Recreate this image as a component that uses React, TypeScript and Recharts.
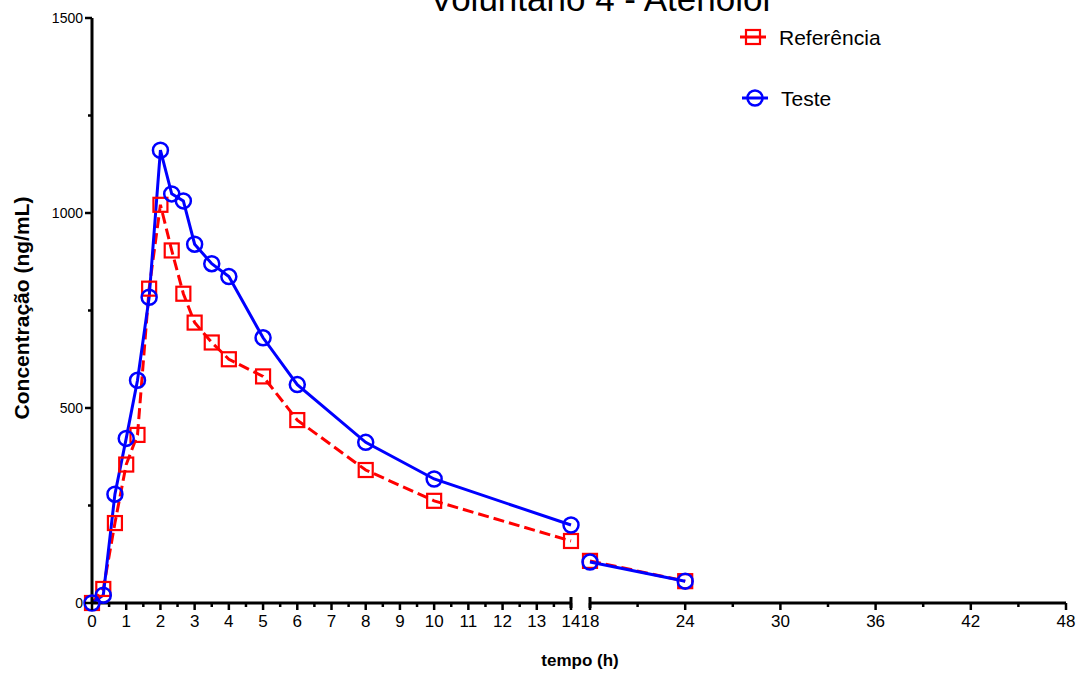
import React from 'react';
import { LineChart, Line, XAxis, YAxis } from 'recharts';

const times = [0, 0.33, 0.67, 1, 1.33, 1.67, 2, 2.33, 2.67, 3, 3.5, 4, 5, 6, 8, 10, 14, 18, 24];
const referencia = [0, 36, 205, 355, 431, 806, 1021, 904, 793, 719, 668, 625, 581, 469, 341, 262, 159, 108, 56];
const teste = [0, 20, 279, 422, 571, 784, 1161, 1049, 1031, 920, 870, 837, 680, 560, 412, 318, 200, 105, 56];

const xTicksLeft = [0, 0.5, 1, 1.5, 2, 2.5, 3, 3.5, 4, 4.5, 5, 5.5, 6, 6.5, 7, 7.5, 8, 8.5, 9, 9.5, 10, 10.5, 11, 11.5, 12, 12.5, 13, 13.5, 14];
const xTicksRight = [18, 21, 24, 27, 30, 33, 36, 39, 42, 45, 48];
const xLabelsRight = [18, 24, 30, 36, 42, 48];
const yTicks = [0, 250, 500, 750, 1000, 1250, 1500];
const yLabels = [0, 500, 1000, 1500];

const seriesNames = { ref: 'Referência', test: 'Teste' };
const titleText = 'Voluntario 4 - Atenolol';
const xTitle = 'tempo (h)';
const yTitle = 'Concentração (ng/mL)';

const RED = '#ff0000';
const BLUE = '#0000ff';
const FONT = "Arial, 'Liberation Sans', Helvetica, sans-serif";

const rows = times.map((t, i) => ({ t, ref: referencia[i], test: teste[i] }));
const leftRows = rows.filter((r) => r.t <= 14);
const rightRows = rows.filter((r) => r.t >= 18);

const SquareDot = (props: any) => {
  const { cx, cy, index } = props;
  if (cx == null || cy == null) return null;
  return <rect key={'s' + index} x={cx - 7} y={cy - 7} width={14} height={14} fill="none" stroke={RED} strokeWidth={2.2} />;
};
const CircleDot = (props: any) => {
  const { cx, cy, index } = props;
  if (cx == null || cy == null) return null;
  return <circle key={'c' + index} cx={cx} cy={cy} r={7.5} fill="none" stroke={BLUE} strokeWidth={2.5} />;
};

const makeXTick = (labels: (v: number) => boolean, capAt: number | null) => (props: any) => {
  const { x, y, payload } = props;
  const v = payload.value;
  const major = labels(v);
  const len = major ? 7 : 4;
  return (
    <g>
      <line x1={x} y1={y} x2={x} y2={y + len} stroke="#000" strokeWidth={2.5} />
      {capAt !== null && v === capAt && (
        <line x1={x} y1={y - 6} x2={x} y2={y + 5} stroke="#000" strokeWidth={3} />
      )}
      {major && (
        <text x={x} y={y + 24} textAnchor="middle" fontSize={17} fontFamily={FONT} fill="#000">
          {v}
        </text>
      )}
    </g>
  );
};

const YTick = (props: any) => {
  const { x, y, payload } = props;
  const v = payload.value;
  const major = yLabels.includes(v);
  const len = major ? 7 : 4;
  return (
    <g>
      <line x1={x} y1={y} x2={x - len} y2={y} stroke="#000" strokeWidth={2.5} />
      {major && (
        <text x={x - 9} y={y + 5} textAnchor="end" fontSize={14} fontFamily={FONT} fill="#000">
          {v}
        </text>
      )}
    </g>
  );
};

const axisLine = { stroke: '#000', strokeWidth: 3 };

export default function App() {
  return (
    <div style={{ position: 'absolute', left: 0, top: 0, width: 1084, height: 673, background: '#fff', overflow: 'hidden' }}>
      <div style={{ position: 'absolute', left: 0, top: 0 }}>
        <LineChart width={580} height={673} data={leftRows} margin={{ top: 18, right: 9, bottom: 40, left: 32 }}>
          <XAxis
            dataKey="t"
            type="number"
            domain={[0, 14]}
            ticks={xTicksLeft}
            interval={0}
            axisLine={axisLine}
            tickLine={false}
            tickSize={0}
            tickMargin={0}
            height={30}
            tick={makeXTick((v) => Number.isInteger(v), 14)}
          />
          <YAxis
            type="number"
            domain={[0, 1500]}
            ticks={yTicks}
            interval={0}
            width={60}
            axisLine={axisLine}
            tickLine={false}
            tickSize={0}
            tickMargin={0}
            tick={YTick}
          />
          <Line
            dataKey="ref"
            type="linear"
            stroke={RED}
            strokeWidth={3}
            strokeDasharray="11 5"
            dot={SquareDot}
            activeDot={false}
            isAnimationActive={false}
          />
          <Line
            dataKey="test"
            type="linear"
            stroke={BLUE}
            strokeWidth={3}
            dot={CircleDot}
            activeDot={false}
            isAnimationActive={false}
          />
        </LineChart>
      </div>
      <div style={{ position: 'absolute', left: 580, top: 0 }}>
        <LineChart width={504} height={673} data={rightRows} margin={{ top: 18, right: 18, bottom: 40, left: 10 }}>
          <XAxis
            dataKey="t"
            type="number"
            domain={[18, 48]}
            ticks={xTicksRight}
            interval={0}
            axisLine={axisLine}
            tickLine={false}
            tickSize={0}
            tickMargin={0}
            height={30}
            tick={makeXTick((v) => xLabelsRight.includes(v), 18)}
          />
          <YAxis type="number" domain={[0, 1500]} hide />
          <Line
            dataKey="ref"
            name={seriesNames.ref}
            type="linear"
            stroke={RED}
            strokeWidth={3}
            strokeDasharray="11 5"
            dot={SquareDot}
            activeDot={false}
            isAnimationActive={false}
          />
          <Line
            dataKey="test"
            name={seriesNames.test}
            type="linear"
            stroke={BLUE}
            strokeWidth={3}
            dot={CircleDot}
            activeDot={false}
            isAnimationActive={false}
          />
        </LineChart>
      </div>
      <svg width={1084} height={673} style={{ position: 'absolute', left: 0, top: 0, pointerEvents: 'none' }}>
        <text x={600} y={11} textAnchor="middle" fontSize={35} fontFamily={FONT} fill="#000">{titleText}</text>
        <text x={580} y={666} textAnchor="middle" fontSize={17} fontWeight="bold" fontFamily={FONT} fill="#000">{xTitle}</text>
        <text
          x={0}
          y={0}
          transform="translate(29,308) rotate(-90)"
          textAnchor="middle"
          fontSize={21}
          fontWeight="bold"
          fontFamily={FONT}
          fill="#000"
        >
          {yTitle}
        </text>
        <g transform="translate(740,27)">
          <line x1={0} y1={10} x2={26} y2={10} stroke={RED} strokeWidth={3} />
          <rect x={6} y={3} width={14} height={14} fill="none" stroke={RED} strokeWidth={2.2} />
          <text x={39} y={17.5} fontSize={21} fontFamily={FONT} fill="#000">{seriesNames.ref}</text>
          <line x1={2} y1={71} x2={28} y2={71} stroke={BLUE} strokeWidth={3} />
          <circle cx={15} cy={71} r={7.5} fill="none" stroke={BLUE} strokeWidth={2.5} />
          <text x={41} y={78.5} fontSize={21} fontFamily={FONT} fill="#000">{seriesNames.test}</text>
        </g>
      </svg>
    </div>
  );
}
